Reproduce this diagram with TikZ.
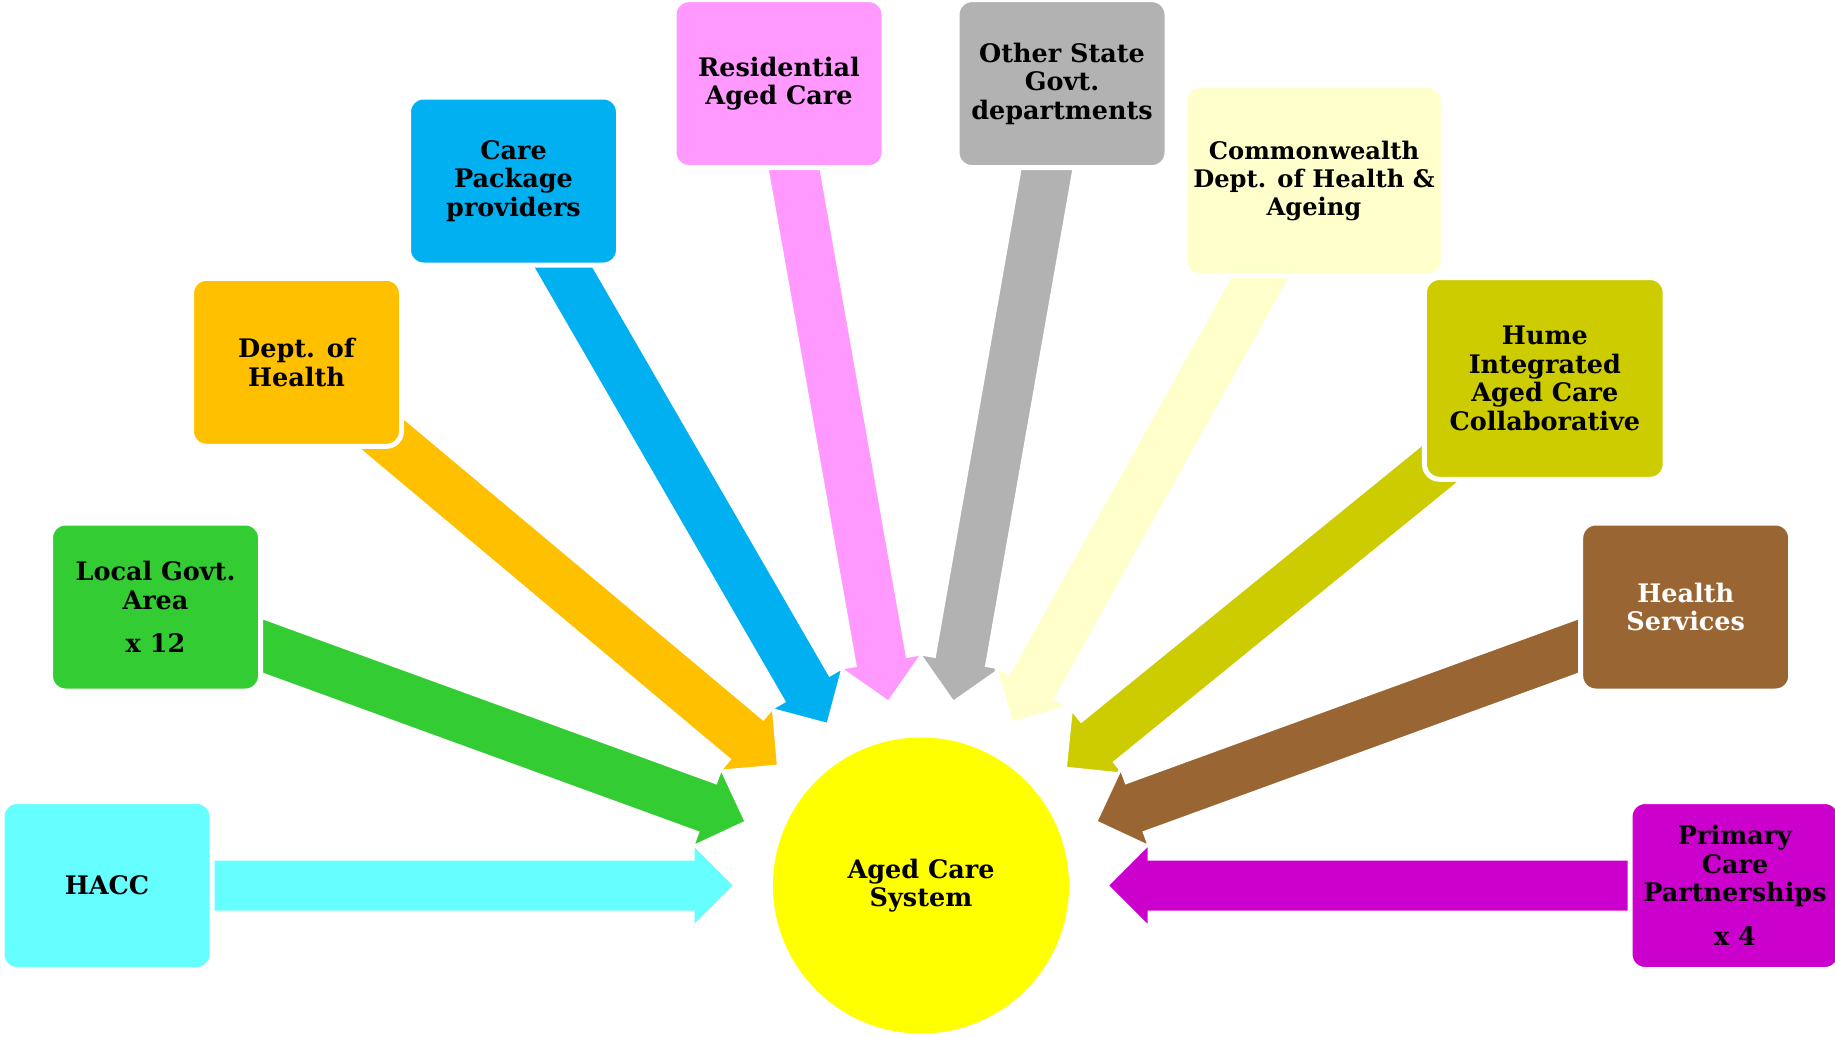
\documentclass[tikz,border=0pt]{standalone}
\usepackage{fontspec}
\setmainfont{DejaVu Serif}
\usetikzlibrary{calc,backgrounds}
\definecolor{hacccol}{HTML}{66FFFF}
\definecolor{lgacol}{HTML}{33CC33}
\definecolor{dohcol}{HTML}{FFC000}
\definecolor{cppcol}{HTML}{00B0F0}
\definecolor{raccol}{HTML}{FF99FF}
\definecolor{osgcol}{HTML}{B2B2B2}
\definecolor{cdhacol}{HTML}{FFFFCC}
\definecolor{hiacccol}{HTML}{CCCC00}
\definecolor{hscol}{HTML}{996633}
\definecolor{pcpcol}{HTML}{CC00CC}
\definecolor{hubcol}{HTML}{FFFF00}
\tikzset{
  unit/.style={
    rectangle, rounded corners=15pt,
    draw=white, line width=5pt,
    minimum width=210pt, minimum height=168pt,
    align=center, inner sep=2pt,
    font=\bfseries\fontsize{25.5}{28.5}\selectfont
  },
  hubdisc/.style={
    circle, fill=hubcol, minimum size=296pt,
    align=center, inner sep=0pt,
    font=\bfseries\fontsize{25.5}{28.5}\selectfont
  }
}
% block arrow from a unit towards the hub
\newcommand\feedarrow[2]{%
  \coordinate (#2-tip) at ($(hub.center)!186pt!(#2.center)$);
  \coordinate (#2-base) at ($(hub.center)!228pt!(#2.center)$);
  \filldraw[fill=#1, draw=white, line width=3pt]
    ($(#2.center)!26.5pt!90:(hub.center)$) --
    ($(#2-base)!26.5pt!90:(hub.center)$) --
    ($(#2-base)!42pt!90:(hub.center)$) --
    (#2-tip) --
    ($(#2-base)!42pt!-90:(hub.center)$) --
    ($(#2-base)!26.5pt!-90:(hub.center)$) --
    ($(#2.center)!26.5pt!-90:(hub.center)$) -- cycle;
}

\begin{document}
\begin{tikzpicture}[x=1pt, y=-1pt]
  \useasboundingbox (0,0) rectangle (1835,1037);
  \node[hubdisc] (hub) at (921,885.5) {Aged Care\\System};
  \node[unit, fill=hacccol] (hacc) at (107,885.5) {HACC};
  \node[unit, fill=lgacol] (lga) at (155.5,607) {Local Govt.\\Area\\[15pt]x 12};
  \node[unit, fill=dohcol] (doh) at (296.5,362.3) {Dept. of\\Health};
  \node[unit, fill=cppcol] (cpp) at (513.5,181) {Care\\Package\\providers};
  \node[unit, fill=raccol] (rac) at (779,83.6) {Residential\\Aged Care};
  \node[unit, fill=osgcol] (osg) at (1062,83.6) {Other State\\Govt.\\departments};
  \node[unit, fill=cdhacol, minimum width=258.5pt, minimum height=190pt,
    font=\bfseries\fontsize{24.2}{28}\selectfont]
    (cdha) at (1314,180.7) {Commonwealth\\Dept. of Health \&\\Ageing};
  \node[unit, fill=hiacccol, minimum width=240.7pt, minimum height=201.7pt]
    (hiacc) at (1544.8,378.4) {Hume\\Integrated\\Aged Care\\Collaborative};
  \node[unit, fill=hscol, text=white] (hs) at (1685.7,607) {Health\\Services};
  \node[unit, fill=pcpcol] (pcp) at (1735,885.5) {Primary\\Care\\Partnerships\\[15pt]x 4};

  \begin{scope}[on background layer]
    \feedarrow{hacccol}{hacc}
    \feedarrow{lgacol}{lga}
    \feedarrow{dohcol}{doh}
    \feedarrow{cppcol}{cpp}
    \feedarrow{raccol}{rac}
    \feedarrow{osgcol}{osg}
    \feedarrow{cdhacol}{cdha}
    \feedarrow{hiacccol}{hiacc}
    \feedarrow{hscol}{hs}
    \feedarrow{pcpcol}{pcp}
  \end{scope}
\end{tikzpicture}
\end{document}
